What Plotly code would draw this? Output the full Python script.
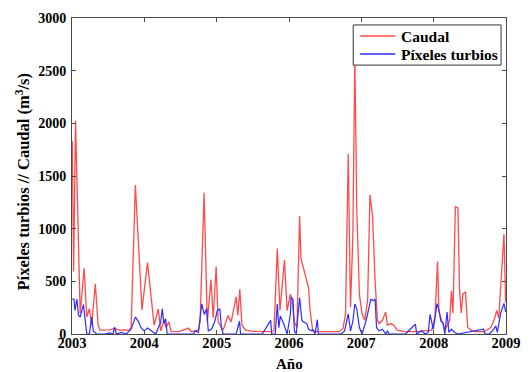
import plotly.graph_objects as go

# Caudal (m3/s) against time in decimal years
caudal_t = [
    2003.004, 2003.022, 2003.049, 2003.113, 2003.168, 2003.204, 2003.240, 2003.272,
    2003.322, 2003.362, 2003.386, 2003.52, 2003.59, 2003.66, 2003.73, 2003.79,
    2003.817, 2003.876, 2003.967, 2004.044, 2004.135, 2004.193, 2004.226, 2004.271,
    2004.30, 2004.339, 2004.37, 2004.48, 2004.612, 2004.65, 2004.748, 2004.771,
    2004.826, 2004.871, 2004.921, 2004.952, 2004.993, 2005.02, 2005.09, 2005.157,
    2005.20, 2005.270, 2005.293, 2005.320, 2005.35, 2005.40, 2005.50, 2005.63,
    2005.77, 2005.793, 2005.838, 2005.875, 2005.937, 2005.974, 2006.019, 2006.042,
    2006.074, 2006.110, 2006.147, 2006.165, 2006.223, 2006.270, 2006.292, 2006.328,
    2006.38, 2006.52, 2006.696, 2006.747, 2006.782, 2006.819, 2006.850, 2006.883,
    2006.910, 2006.937, 2006.973, 2007.010, 2007.046, 2007.087, 2007.119, 2007.155,
    2007.191, 2007.223, 2007.245, 2007.292, 2007.337, 2007.360, 2007.405, 2007.450,
    2007.496, 2007.61, 2007.75, 2007.973, 2008.018, 2008.054, 2008.072, 2008.11,
    2008.154, 2008.222, 2008.245, 2008.267, 2008.300, 2008.335, 2008.358, 2008.381,
    2008.403, 2008.440, 2008.471, 2008.518, 2008.56, 2008.70, 2008.790, 2008.834,
    2008.872, 2008.90, 2008.935, 2008.972, 2008.995,
]
caudal_v = [
    1833, 594, 2025, 195, 625, 160, 240, 84,
    477, 84, 37, 40, 53, 35, 40, 37,
    60, 1415, 229, 678, 84, 239, 30, 130,
    60, 115, 25, 22, 56, 22, 40, 115,
    1344, 115, 517, 155, 641, 115, 37, 176,
    115, 353, 176, 424, 84, 37, 25, 22,
    22, 37, 811, 223, 703, 223, 378, 330,
    114, 62, 1121, 718, 563, 440, 223, 31,
    22, 22, 22, 53, 192, 1709, 254, 935,
    2640, 1183, 378, 192, 130, 316, 1322, 1121,
    495, 130, 99, 130, 210, 84, 99, 84,
    37, 22, 22, 37, 160, 687, 223, 130,
    37, 130, 409, 200, 1207, 1198, 409, 200,
    378, 400, 62, 37, 22, 22, 62, 130,
    223, 150, 502, 950, 300,
]

# Píxeles turbios against time in decimal years
pixeles_t = [
    2003.004, 2003.027, 2003.041, 2003.068, 2003.090, 2003.113, 2003.158, 2003.204,
    2003.240, 2003.272, 2003.294, 2003.34, 2003.454, 2003.52, 2003.567, 2003.590,
    2003.613, 2003.68, 2003.75, 2003.817, 2003.876, 2003.921, 2003.954, 2003.999,
    2004.044, 2004.09, 2004.158, 2004.203, 2004.226, 2004.248, 2004.271, 2004.294,
    2004.316, 2004.339, 2004.41, 2004.54, 2004.68, 2004.703, 2004.748, 2004.793,
    2004.830, 2004.861, 2004.884, 2004.929, 2004.975, 2005.007, 2005.044, 2005.065,
    2005.09, 2005.27, 2005.316, 2005.33, 2005.50, 2005.63, 2005.747, 2005.76,
    2005.81, 2005.838, 2005.86, 2005.880, 2005.929, 2005.974, 2006.019, 2006.028,
    2006.055, 2006.074, 2006.10, 2006.147, 2006.178, 2006.20, 2006.247, 2006.270,
    2006.315, 2006.328, 2006.360, 2006.392, 2006.406, 2006.59, 2006.72, 2006.768,
    2006.819, 2006.850, 2006.883, 2006.910, 2006.937, 2006.973, 2007.01, 2007.064,
    2007.101, 2007.132, 2007.164, 2007.191, 2007.210, 2007.245, 2007.292, 2007.337,
    2007.360, 2007.38, 2007.61, 2007.747, 2007.766, 2007.836, 2007.88, 2007.926,
    2007.950, 2007.973, 2007.995, 2008.018, 2008.046, 2008.072, 2008.10, 2008.131,
    2008.154, 2008.185, 2008.21, 2008.245, 2008.29, 2008.335, 2008.689, 2008.71,
    2008.77, 2008.812, 2008.858, 2008.88, 2008.927, 2008.972, 2008.995,
]
pixeles_v = [
    331, 331, 223, 331, 178, 160, 279, 0,
    0, 160, 30, 0, 0, 10, 0, 65,
    0, 15, 0, 45, 160, 115, 60, 30,
    56, 30, 0, 75, 110, 239, 100, 146,
    0, 0, 0, 0, 0, 30, 15, 285,
    186, 239, 30, 45, 121, 220, 240, 60,
    0, 0, 121, 0, 0, 0, 130, 0,
    0, 285, 60, 170, 93, 0, 186, 347,
    330, 30, 0, 347, 130, 115, 99, 45,
    30, 45, 0, 136, 0, 0, 0, 30,
    192, 30, 121, 285, 239, 62, 0, 121,
    245, 331, 316, 331, 62, 30, 45, 0,
    30, 0, 0, 93, 0, 30, 0, 15,
    186, 121, 45, 150, 288, 230, 121, 106,
    0, 208, 15, 45, 15, 0, 45, 0,
    0, 30, 76, 15, 200, 290, 210,
]

year_ticks = [2003, 2004, 2005, 2006, 2007, 2008, 2009]
y_ticks = [0, 500, 1000, 1500, 2000, 2500, 3000]

serif = "Liberation Serif"
frame = "#4a4a4a"
red = "rgb(255,75,75)"
blue = "rgb(45,45,255)"

fig = go.Figure()
fig.add_trace(go.Scatter(
    x=caudal_t, y=caudal_v, mode="lines", name="Caudal",
    line=dict(color=red, width=1.3),
))
fig.add_trace(go.Scatter(
    x=pixeles_t, y=pixeles_v, mode="lines", name="Píxeles turbios",
    line=dict(color=blue, width=1.2),
))

axis_common = dict(
    showgrid=False, zeroline=False, showline=True, linecolor=frame, linewidth=1,
    mirror="ticks", ticks="inside", ticklen=4, tickcolor=frame, tickwidth=1,
)

fig.update_xaxes(
    range=[2003, 2009], tickvals=year_ticks, ticktext=[str(y) for y in year_ticks],
    tickfont=dict(family=serif, size=14.5, color="black", weight="bold"),
    ticklabelstandoff=-4, **axis_common,
)
fig.update_yaxes(
    range=[0, 3000], tickvals=y_ticks, ticktext=[str(v) for v in y_ticks],
    tickfont=dict(family=serif, size=14, color="black", weight="bold"),
    ticklabelstandoff=2, **axis_common,
)

fig.add_annotation(
    text="Año", xref="paper", yref="paper", x=0.502, y=-0.095,
    xanchor="center", yanchor="middle", showarrow=False,
    font=dict(family=serif, size=15, color="black", weight="bold"),
)
fig.add_annotation(
    text="Píxeles turbios // Caudal (m<sup>3</sup>/s)",
    xref="paper", yref="paper", x=-0.114, y=0.481,
    xanchor="center", yanchor="middle", showarrow=False, textangle=-90,
    font=dict(family=serif, size=16.5, color="black", weight="bold"),
)

# Boxed legend in the upper-right corner of the axes
legend_font = dict(family=serif, size=15.5, color="black", weight="bold")
fig.add_shape(
    type="rect", xref="paper", yref="paper", x0=0.648, x1=0.9886, y0=0.851, y1=0.978,
    line=dict(color="#333", width=1), fillcolor="white", layer="above",
)
legend_rows = [("Caudal", red, 0.943), ("Píxeles turbios", blue, 0.886)]
for label, color, ypos in legend_rows:
    fig.add_shape(
        type="line", xref="paper", yref="paper", x0=0.664, x1=0.745, y0=ypos, y1=ypos,
        line=dict(color=color, width=1.3), layer="above",
    )
    fig.add_annotation(
        text=label, xref="paper", yref="paper", x=0.753, y=ypos,
        xanchor="left", yanchor="middle", showarrow=False, font=legend_font,
    )

fig.update_layout(
    width=532, height=372,
    margin=dict(l=72, r=20, t=11, b=38),
    paper_bgcolor="white", plot_bgcolor="white",
    showlegend=False,
)

fig.write_html("out.html")
